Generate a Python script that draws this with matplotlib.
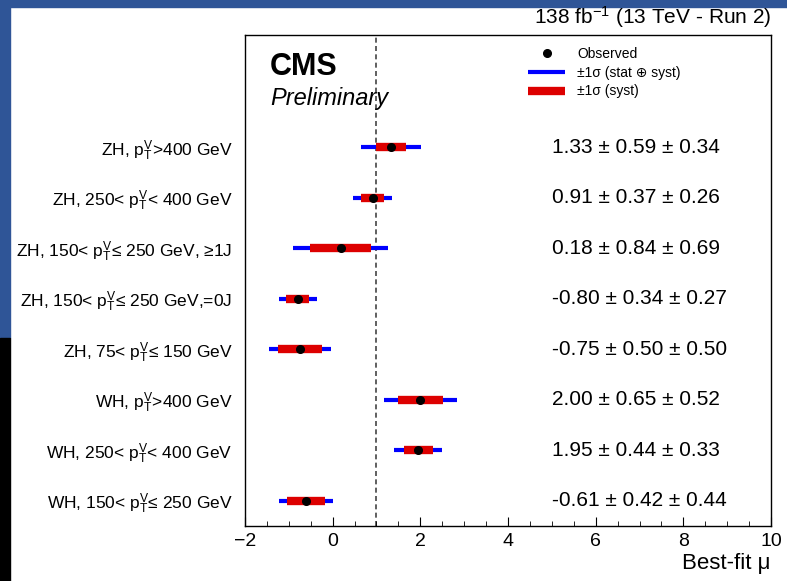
import matplotlib
matplotlib.use("Agg")
import matplotlib.pyplot as plt
from matplotlib.lines import Line2D
from matplotlib.patches import Rectangle
from matplotlib.ticker import MultipleLocator
import numpy as np

plt.rcParams['font.family'] = ['Liberation Sans', 'DejaVu Sans']
plt.rcParams['mathtext.fontset'] = 'custom'
plt.rcParams['mathtext.rm'] = 'Liberation Sans'
plt.rcParams['mathtext.it'] = 'Liberation Sans:italic'

# categories, top to bottom
pt = r"$\mathrm{p}_{\mathrm{T}}^{\mathrm{V}}$"
labels = [
    "ZH, " + pt + ">400 GeV",
    "ZH, 250< " + pt + "< 400 GeV",
    "ZH, 150< " + pt + "≤ 250 GeV, ≥1J",
    "ZH, 150< " + pt + "≤ 250 GeV,=0J",
    "ZH, 75< " + pt + "≤ 150 GeV",
    "WH, " + pt + ">400 GeV",
    "WH, 250< " + pt + "< 400 GeV",
    "WH, 150< " + pt + "≤ 250 GeV",
]
mu = [1.33, 0.91, 0.18, -0.80, -0.75, 2.00, 1.95, -0.61]
stat = [0.59, 0.37, 0.84, 0.34, 0.50, 0.65, 0.44, 0.42]
syst = [0.34, 0.26, 0.69, 0.27, 0.50, 0.52, 0.33, 0.44]

mu = np.array(mu)
stat = np.array(stat)
syst = np.array(syst)
tot = np.hypot(stat, syst)  # stat (+) syst
ypos = np.arange(len(labels))[::-1] + 0.5

fig = plt.figure(figsize=(7.87, 5.81), dpi=100)

# slide border around the screenshot
fig.add_artist(Rectangle((0, 1 - 7 / 581), 1, 7 / 581, transform=fig.transFigure,
                         color='#2f5597', zorder=0))
fig.add_artist(Rectangle((0, 1 - 338 / 581), 10 / 787, 338 / 581, transform=fig.transFigure,
                         color='#2f5597', zorder=0))
fig.add_artist(Rectangle((0, 0), 10 / 787, 1 - 338 / 581, transform=fig.transFigure,
                         color='black', zorder=0))

ax = fig.add_axes([245 / 787, 1 - 526 / 581, 526 / 787, 491 / 581])

ax.axvline(1.0, color='#444444', lw=1.2, ls=(0, (3, 2)), zorder=1)
ax.hlines(ypos, mu - tot, mu + tot, color='#0000ff', lw=3.0, capstyle='butt', zorder=2)
ax.hlines(ypos, mu - syst, mu + syst, color='#dd0000', lw=6.0, capstyle='butt', zorder=3)
ax.plot(mu, ypos, 'o', color='black', ms=5.5, zorder=4)

for y, m, s1, s2 in zip(ypos, mu, stat, syst):
    ax.text(5.0, y, f"{m:.2f} ± {s1:.2f} ± {s2:.2f}", fontsize=15, va='center', ha='left')

ax.set_xlim(-2, 10)
ax.set_ylim(0, 9.72)
ax.set_yticks(ypos)
ax.set_yticklabels(labels, fontsize=12.5)
ax.tick_params(axis='y', length=0, pad=9)
ax.xaxis.set_major_locator(MultipleLocator(2))
ax.xaxis.set_minor_locator(MultipleLocator(0.5))
ax.tick_params(axis='x', which='major', direction='in', length=6.5, labelsize=14, pad=5)
ax.tick_params(axis='x', which='minor', direction='in', length=3.5)
ax.set_xlabel('Best-fit μ', loc='right', fontsize=16, labelpad=2)
for sp in ax.spines.values():
    sp.set_linewidth(1.0)

ax.text(0.048, 0.965, 'CMS', transform=ax.transAxes, fontsize=22, fontweight='bold',
        va='top', ha='left')
ax.text(0.048, 0.895, 'Preliminary', transform=ax.transAxes, fontsize=17, style='italic',
        va='top', ha='left')
ax.text(1.0, 1.01, r'138 fb$^{-1}$ (13 TeV - Run 2)', transform=ax.transAxes, fontsize=15,
        va='bottom', ha='right')

handles = [
    Line2D([], [], marker='o', ls='none', color='black', ms=5.5),
    Line2D([], [], color='#0000ff', lw=3.0, solid_capstyle='butt'),
    Line2D([], [], color='#dd0000', lw=6.0, solid_capstyle='butt'),
]
ax.legend(handles, ['Observed', '±1σ (stat ⊕ syst)', '±1σ (syst)'],
          loc='upper left', bbox_to_anchor=(0.538, 0.975), frameon=False, fontsize=10,
          handlelength=2.7, handletextpad=0.86, labelspacing=0.33, borderpad=0,
          borderaxespad=0)

fig.savefig('out.png', dpi=100)
